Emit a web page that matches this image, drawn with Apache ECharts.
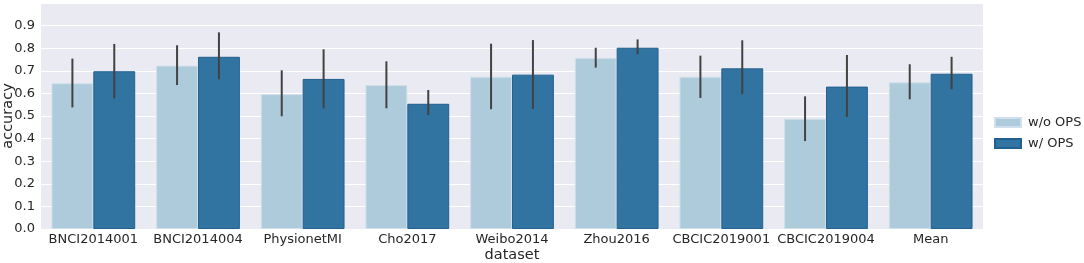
<!DOCTYPE html>
<html>
<head>
<meta charset="utf-8">
<script src="https://cdn.jsdelivr.net/npm/echarts@6/dist/echarts.min.js"></script>
<style>
  html, body { margin: 0; padding: 0; background: #fff; }
  #chart { width: 1084px; height: 263px; }
</style>
</head>
<body>
<div id="chart"></div>
<script>
const categories = ['BNCI2014001', 'BNCI2014004', 'PhysionetMI', 'Cho2017', 'Weibo2014',
    'Zhou2016', 'CBCIC2019001', 'CBCIC2019004', 'Mean'];
const yTicks = [0, 0.1, 0.2, 0.3, 0.4, 0.5, 0.6, 0.7, 0.8, 0.9];

// w/o OPS
const woOps = [0.645, 0.723, 0.597, 0.637, 0.674, 0.757, 0.674, 0.488, 0.649];
const woLow = [0.538, 0.637, 0.499, 0.534, 0.530, 0.714, 0.580, 0.389, 0.574];
const woHigh = [0.754, 0.813, 0.702, 0.742, 0.820, 0.802, 0.767, 0.587, 0.729];

// w/ OPS
const wOps = [0.698, 0.762, 0.664, 0.554, 0.683, 0.802, 0.711, 0.630, 0.687];
const wLow = [0.578, 0.662, 0.534, 0.504, 0.531, 0.773, 0.597, 0.496, 0.618];
const wHigh = [0.819, 0.870, 0.795, 0.615, 0.836, 0.839, 0.835, 0.770, 0.762];

const font = 'DejaVu Sans';
const textColor = '#262626';

function errData(low, high) {
    return low.map((l, i) => [i, l, high[i]]);
}

// bars sit at -0.2 / +0.2 of the category band
function errRender(shift) {
    return function (params, api) {
        const band = api.size([1, 0])[0];
        const top = api.coord([api.value(0), api.value(2)]);
        const bot = api.coord([api.value(0), api.value(1)]);
        const x = top[0] + shift * band;
        return {
            type: 'line',
            shape: { x1: x, y1: top[1], x2: x, y2: bot[1] },
            style: { stroke: '#424242', lineWidth: 2 }
        };
    };
}

const chart = echarts.init(document.getElementById('chart'));
chart.setOption({
    animation: false,
    textStyle: { fontFamily: font },
    grid: {
        left: 41, right: 101, top: 3, bottom: 34,
        outerBoundsMode: 'none', containLabel: false,
        show: true, backgroundColor: '#eaeaf2', borderWidth: 0
    },
    legend: {
        orient: 'vertical',
        left: 989, top: 111,
        itemWidth: 26, itemHeight: 9, itemGap: 8,
        icon: 'rect',
        textStyle: { fontSize: 13, color: textColor, fontFamily: font, padding: [0, 0, 0, 2] },
        data: ['w/o OPS', 'w/ OPS']
    },
    xAxis: {
        type: 'category',
        data: categories,
        name: 'dataset',
        nameLocation: 'middle',
        nameGap: 19,
        nameMoveOverlap: false,
        nameTextStyle: { fontSize: 14.5, color: textColor },
        axisLine: { show: false },
        axisTick: { show: false },
        axisLabel: { fontSize: 13, color: textColor, margin: 4, interval: 0 },
        splitLine: { show: false }
    },
    yAxis: {
        type: 'value',
        min: 0, max: 1, interval: 0.1,
        name: 'accuracy',
        nameLocation: 'middle',
        nameRotate: 90,
        nameGap: 33,
        nameMoveOverlap: false,
        nameTextStyle: { fontSize: 14.5, color: textColor, verticalAlign: 'middle' },
        axisLine: { show: false },
        axisTick: { show: false },
        axisLabel: {
            fontSize: 13, color: textColor, margin: 6,
            formatter: v => {
                const t = yTicks.find(k => Math.abs(k - v) < 1e-6);
                return t === undefined ? '' : t.toFixed(1);
            }
        },
        splitLine: { lineStyle: { color: '#ffffff', width: 1 } }
    },
    series: [
        {
            name: 'w/o OPS', type: 'bar', data: woOps,
            barGap: '0%', barCategoryGap: '20%',
            itemStyle: { color: '#aecbdc', borderColor: '#cfe0ea', borderWidth: 1 }
        },
        {
            name: 'w/ OPS', type: 'bar', data: wOps,
            barGap: '0%', barCategoryGap: '20%',
            itemStyle: { color: '#3274a1', borderColor: '#235f8f', borderWidth: 1 }
        },
        {
            type: 'custom', name: 'err-wo', data: errData(woLow, woHigh),
            renderItem: errRender(-0.2), z: 10, silent: true,
            encode: { x: 0, y: [1, 2] }
        },
        {
            type: 'custom', name: 'err-w', data: errData(wLow, wHigh),
            renderItem: errRender(0.2), z: 10, silent: true,
            encode: { x: 0, y: [1, 2] }
        }
    ]
});
</script>
</body>
</html>
